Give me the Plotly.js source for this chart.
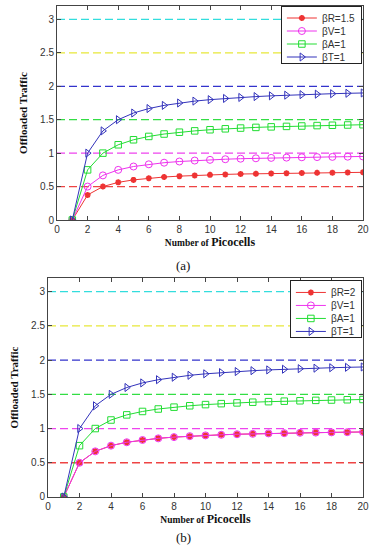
<!DOCTYPE html>
<html>
<head>
<meta charset="utf-8">
<script src="https://cdn.plot.ly/plotly-3.0.1.min.js"></script>
<style>html,body{margin:0;padding:0;background:#fff;}#chart{width:375px;height:550px;}</style>
</head>
<body>
<div id="chart"></div>
<script>
// ---- data ----
const picocells = [1,2,3,4,5,6,7,8,9,10,11,12,13,14,15,16,17,18,19,20];

// panel (a)
const a_R = [0,0.375,0.5,0.563,0.6,0.625,0.643,0.656,0.667,0.675,0.682,0.688,0.692,0.696,0.7,0.703,0.706,0.708,0.711,0.713];
const a_V = [0,0.5,0.667,0.75,0.8,0.833,0.857,0.875,0.889,0.9,0.909,0.917,0.923,0.929,0.933,0.938,0.941,0.944,0.947,0.95];
const a_A = [0,0.75,1.0,1.125,1.2,1.25,1.286,1.313,1.333,1.35,1.364,1.375,1.385,1.393,1.4,1.406,1.412,1.417,1.421,1.425];
const a_T = [0,1.0,1.333,1.5,1.6,1.667,1.714,1.75,1.778,1.8,1.818,1.833,1.846,1.857,1.867,1.875,1.882,1.889,1.895,1.9];

// panel (b)
const b_R = [0,0.5,0.667,0.75,0.8,0.833,0.857,0.875,0.889,0.9,0.909,0.917,0.923,0.929,0.933,0.938,0.941,0.944,0.947,0.95];
const b_V = [0,0.5,0.667,0.75,0.8,0.833,0.857,0.875,0.889,0.9,0.909,0.917,0.923,0.929,0.933,0.938,0.941,0.944,0.947,0.95];
const b_A = [0,0.75,1.0,1.125,1.2,1.25,1.286,1.313,1.333,1.35,1.364,1.375,1.385,1.393,1.4,1.406,1.412,1.417,1.421,1.425];
const b_T = [0,1.0,1.333,1.5,1.6,1.667,1.714,1.75,1.778,1.8,1.818,1.833,1.846,1.857,1.867,1.875,1.882,1.889,1.895,1.9];

const namesA = ['βR=1.5','βV=1','βA=1','βT=1'];
const namesB = ['βR=2','βV=1','βA=1','βT=1'];

// horizontal reference (limit) levels
const refLevels = [0.5, 1, 1.5, 2, 2.5, 3];
const refX = [0, 20];
const xTicks = [0,2,4,6,8,10,12,14,16,18,20];
const yTicks = [0,0.5,1,1.5,2,2.5,3];

// ---- styles ----
const refColors = ['#ee4444','#ee44ee','#33dd44','#3333cc','#e8e83a','#33dddd'];
const C_R = '#ee3333', C_V = '#ee33ee', C_A = '#22dd33', C_T = '#3333bb';

function refTraces(xa, ya){
  return refLevels.map((v,i)=>({
    x: refX, y: [v,v], xaxis: xa, yaxis: ya, mode:'lines', showlegend:false, hoverinfo:'skip',
    line:{color:refColors[i], width:1.3, dash:'8px,4px'}
  }));
}
function seriesTraces(xa, ya, R, V, A, T, names, leg){
  return [
    {x:picocells, y:R, xaxis:xa, yaxis:ya, name:names[0], legend:leg, mode:'lines+markers',
     line:{color:C_R,width:1}, marker:{symbol:'asterisk-open', size:5, color:C_R, line:{color:C_R,width:1.8}}},
    {x:picocells, y:V, xaxis:xa, yaxis:ya, name:names[1], legend:leg, mode:'lines+markers',
     line:{color:C_V,width:1}, marker:{symbol:'circle-open', size:7, color:C_V, line:{color:C_V,width:1}}},
    {x:picocells, y:A, xaxis:xa, yaxis:ya, name:names[2], legend:leg, mode:'lines+markers',
     line:{color:C_A,width:1}, marker:{symbol:'square-open', size:6.5, color:C_A, line:{color:C_A,width:1}}},
    {x:picocells, y:T, xaxis:xa, yaxis:ya, name:names[3], legend:leg, mode:'lines+markers',
     line:{color:C_T,width:1}, marker:{symbol:'triangle-right-open', size:7, color:C_T, line:{color:C_T,width:1}}}
  ];
}

const data = [].concat(
  refTraces('x','y'),
  seriesTraces('x','y',a_R,a_V,a_A,a_T,namesA,'legend'),
  refTraces('x2','y2'),
  seriesTraces('x2','y2',b_R,b_V,b_A,b_T,namesB,'legend2')
);

const tickFont = {family:'Liberation Sans, Arial, sans-serif', size:10, color:'#333'};
const titleFont = {family:'Liberation Serif, Times New Roman, serif', size:12, color:'#111'};
function xAxis(domain, anchor){
  return {domain:domain, anchor:anchor, range:[0,20], tickmode:'array', tickvals:xTicks,
    ticks:'inside', ticklen:4, tickcolor:'#444', showline:true, linecolor:'#444', linewidth:1, mirror:'allticks',
    showgrid:false, zeroline:false, tickfont:tickFont,
    title:{text:'<b><span style="font-size:9.5px">Number of </span>Picocells</b>', font:titleFont, standoff:3}};
}
function yAxis(domain, anchor){
  return {domain:domain, anchor:anchor, range:[0,3.2], tickmode:'array', tickvals:yTicks,
    ticks:'inside', ticklen:4, tickcolor:'#444', showline:true, linecolor:'#444', linewidth:1, mirror:'allticks',
    showgrid:false, zeroline:false, tickfont:tickFont,
    title:{text:'<b>Offloaded Traffic</b>', font:{family:'Liberation Serif, Times New Roman, serif', size:11, color:'#111'}, standoff:10}};
}
const legendBase = {xanchor:'right', yanchor:'top', bgcolor:'#fff', bordercolor:'#222', borderwidth:1,
  font:{family:'Liberation Sans, Arial, sans-serif', size:10, color:'#333'}, itemwidth:30, tracegroupgap:0};

const layout = {
  width:375, height:550, margin:{l:0,r:0,t:0,b:0}, paper_bgcolor:'#fff', plot_bgcolor:'#fff',
  xaxis: xAxis([0.152,0.968],'y'),
  yaxis: yAxis([0.6,0.989],'x'),
  xaxis2: xAxis([0.128,0.968],'y2'),
  yaxis2: yAxis([0.0964,0.4945],'x2'),
  legend: Object.assign({x:0.965, y:0.99}, legendBase),
  legend2: Object.assign({x:0.965, y:0.491}, legendBase),
  annotations:[
    {text:'(a)', xref:'paper', yref:'paper', x:0.488, y:1-265/550, yanchor:'middle', showarrow:false,
     font:{family:'Liberation Serif, Times New Roman, serif', size:13, color:'#111'}},
    {text:'(b)', xref:'paper', yref:'paper', x:0.488, y:1-537/550, yanchor:'middle', showarrow:false,
     font:{family:'Liberation Serif, Times New Roman, serif', size:13, color:'#111'}}
  ],
  showlegend:true
};

// tighten legend row spacing (Plotly enforces a 19px minimum row height)
function compactLegends(gd){
  const ROW = 13;
  gd.querySelectorAll('g.legend, g.legend2, g[class^="legend"]').forEach(leg=>{
    if(leg.dataset.compacted) return;
    const items = Array.from(leg.querySelectorAll('g.traces'));
    if(!items.length) return;
    leg.dataset.compacted = '1';
    const ys = items.map(it=>{
      const m = /translate\(\s*([-\d.]+)[ ,]+([-\d.]+)/.exec(it.getAttribute('transform')||'');
      return m ? [parseFloat(m[1]), parseFloat(m[2])] : [0,0];
    });
    const y0 = ys[0][1] - 3;
    const oldStep = items.length>1 ? ys[1][1]-ys[0][1] : ROW;
    items.forEach((it,i)=>it.setAttribute('transform', `translate(${ys[i][0]},${y0 + ROW*i})`));
    const shrink = (oldStep-ROW)*items.length + 6;
    leg.querySelectorAll('rect.bg').forEach(r=>{
      const h = parseFloat(r.getAttribute('height'));
      r.setAttribute('height', h - shrink);
    });
  });
}
Plotly.newPlot('chart', data, layout, {displayModeBar:false, staticPlot:true}).then(compactLegends);
</script>
</body>
</html>
